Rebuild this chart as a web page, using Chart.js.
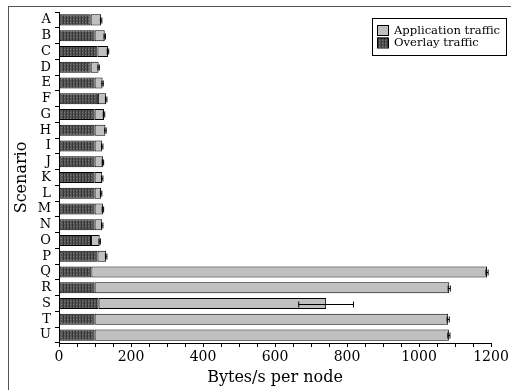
<!DOCTYPE html>
<html>
<head>
<meta charset="utf-8">
<script src="https://cdn.jsdelivr.net/npm/chart.js@4/dist/chart.umd.min.js"></script>
<style>
  html, body { margin: 0; padding: 0; background: #fff; }
  #wrap { width: 511px; height: 390px; }
</style>
</head>
<body>
<div id="wrap"><canvas id="c" width="511" height="390"></canvas></div>
<script>
// Scenarios and per-node traffic (bytes/s)
const scenarios = ['A','B','C','D','E','F','G','H','I','J','K','L','M','N','O','P','Q','R','S','T','U'];
const overlayTraffic     = [88, 99, 107, 88, 99, 108, 99, 99, 99, 99, 99, 99, 99, 99, 89, 107, 90, 99, 110, 99, 99];
const applicationTraffic = [29, 28, 29, 22, 22, 23, 26, 30, 21, 23, 21, 18, 23, 21, 24, 24, 1099, 985, 632, 982, 984];
const totalError         = [2, 2, 2, 2, 2, 2, 2, 2, 2, 2, 2, 2, 2, 2, 2, 2, 3, 3, 76, 3, 3];
const xTickLabels = [0, 200, 400, 600, 800, 1000, 1200];

const FONT = "'DejaVu Serif', serif";

// Dark checkered fill used for overlay traffic
function makeOverlayPattern() {
  const p = document.createElement('canvas');
  p.width = 3; p.height = 3;
  const g = p.getContext('2d');
  g.fillStyle = '#363636';
  g.fillRect(0, 0, 3, 3);
  g.fillStyle = '#555';
  g.fillRect(1, 0, 2, 3);
  g.fillStyle = '#7a7a7a';
  g.fillRect(1, 1, 1, 1);
  return document.getElementById('c').getContext('2d').createPattern(p, 'repeat');
}
const overlayFill = makeOverlayPattern();
const appFill = '#c0c0c0';

// Outer frame and white background
const framePlugin = {
  id: 'frame',
  beforeDraw(chart) {
    const ctx = chart.ctx;
    ctx.save();
    ctx.fillStyle = '#fff';
    ctx.fillRect(0, 0, chart.width, chart.height);
    ctx.strokeStyle = '#555';
    ctx.lineWidth = 1;
    ctx.strokeRect(8.5, 6.5, 1000, 1000);
    ctx.restore();
  }
};

// Error bars on the stacked totals
const errorBarPlugin = {
  id: 'errorBars',
  afterDatasetsDraw(chart) {
    const ctx = chart.ctx;
    const xs = chart.scales.x, ys = chart.scales.y;
    ctx.save();
    ctx.strokeStyle = '#000';
    ctx.lineWidth = 1;
    scenarios.forEach((s, i) => {
      const total = overlayTraffic[i] + applicationTraffic[i];
      const e = totalError[i];
      const x0 = xs.getPixelForValue(total - e);
      const x1 = xs.getPixelForValue(total + e);
      const y = Math.round(ys.getPixelForValue(i)) + 0.5;
      ctx.beginPath();
      ctx.moveTo(x0, y); ctx.lineTo(x1, y);
      ctx.moveTo(x0, y - 3); ctx.lineTo(x0, y + 3);
      ctx.moveTo(x1, y - 3); ctx.lineTo(x1, y + 3);
      ctx.stroke();
    });
    ctx.restore();
  }
};

// Boxed legend in the upper right
const boxLegendPlugin = {
  id: 'boxLegend',
  afterDraw(chart) {
    const ctx = chart.ctx;
    const items = [
      { label: chart.data.datasets[1].label, fill: appFill },
      { label: chart.data.datasets[0].label, fill: overlayFill }
    ];
    ctx.save();
    ctx.fillStyle = '#fff';
    ctx.fillRect(372, 18, 134, 37);
    ctx.strokeStyle = '#000';
    ctx.lineWidth = 1;
    ctx.strokeRect(372.5, 18.5, 134, 37);
    ctx.font = "11.6px " + FONT;
    ctx.textBaseline = 'middle';
    items.forEach((it, k) => {
      const y = 25 + k * 12.5;
      ctx.fillStyle = it.fill;
      ctx.fillRect(377, y, 11, 10);
      ctx.strokeStyle = '#000';
      ctx.strokeRect(377.5, y + 0.5, 11, 10);
      ctx.fillStyle = '#000';
      ctx.fillText(it.label, 394, y + 5.5);
    });
    ctx.restore();
  }
};

Chart.defaults.font.family = FONT;
Chart.defaults.color = '#000';

new Chart(document.getElementById('c'), {
  type: 'bar',
  data: {
    labels: scenarios,
    datasets: [
      {
        label: 'Overlay traffic',
        data: overlayTraffic,
        backgroundColor: overlayFill,
        borderColor: '#000',
        borderWidth: 1,
        borderSkipped: false
      },
      {
        label: 'Application traffic',
        data: applicationTraffic,
        backgroundColor: appFill,
        borderColor: '#000',
        borderWidth: 1,
        borderSkipped: false
      }
    ]
  },
  options: {
    indexAxis: 'y',
    responsive: false,
    animation: false,
    devicePixelRatio: 1,
    layout: { padding: { left: 0, right: 20, top: 12, bottom: 0 } },
    datasets: { bar: { barPercentage: 0.7, categoryPercentage: 1.0 } },
    plugins: {
      legend: { display: false },
      tooltip: { enabled: false }
    },
    scales: {
      x: {
        stacked: true,
        min: 0,
        max: 1200,
        afterFit(scale) { scale.height = 47; },
        ticks: {
          stepSize: 50,
          autoSkip: false,
          maxRotation: 0,
          padding: 2,
          font: { size: 14 },
          callback(v) { return xTickLabels.includes(v) ? String(v) : ''; }
        },
        grid: { drawOnChartArea: false, drawTicks: true, tickLength: 4, color: '#000' },
        border: { display: true, color: '#000', width: 1 },
        title: { display: true, text: 'Bytes/s per node', font: { size: 16 }, padding: { top: 0, bottom: 3 } }
      },
      y: {
        stacked: true,
        afterFit(scale) { scale.width = 59; },
        ticks: { padding: 4, autoSkip: false, font: { size: 13 } },
        grid: { drawOnChartArea: false, drawTicks: true, tickLength: 4, color: '#000', offset: true },
        border: { display: true, color: '#000', width: 1 },
        title: { display: true, text: 'Scenario', font: { size: 16 }, padding: { top: 12, bottom: 0 } }
      }
    }
  },
  plugins: [framePlugin, errorBarPlugin, boxLegendPlugin]
});
</script>
</body>
</html>
